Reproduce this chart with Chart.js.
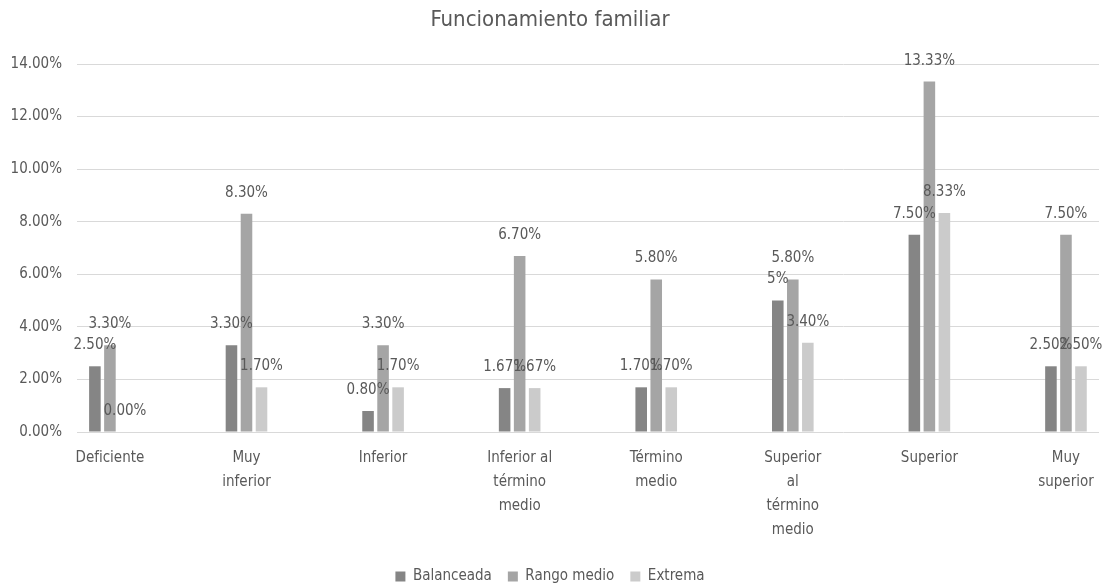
<!DOCTYPE html>
<html lang="es">
<head>
<meta charset="utf-8">
<title>Funcionamiento familiar</title>
<script src="https://cdn.jsdelivr.net/npm/chart.js@4.4.1/dist/chart.umd.min.js"></script>
<style>
  html, body { margin: 0; padding: 0; background: #ffffff; overflow: hidden; }
  #wrap { position: relative; width: 1108px; height: 594px; }
</style>
</head>
<body>
<div id="wrap"><canvas id="chart"></canvas></div>
<script>
// Categories, one array of lines per label
const categories = [
  ['Deficiente'],
  ['Muy', 'inferior'],
  ['Inferior'],
  ['Inferior al', 'término', 'medio'],
  ['Término', 'medio'],
  ['Superior', 'al', 'término', 'medio'],
  ['Superior'],
  ['Muy', 'superior']
];

// Values as printed on each bar (percent)
const balanceadaLabels = ['2.50%', '3.30%', '0.80%', '1.67%', '1.70%', '5%', '7.50%', '2.50%'];
const rangoMedioLabels = ['3.30%', '8.30%', '3.30%', '6.70%', '5.80%', '5.80%', '13.33%', '7.50%'];
const extremaLabels    = ['0.00%', '1.70%', '1.70%', '1.67%', '1.70%', '3.40%', '8.33%', '2.50%'];

const balanceada = balanceadaLabels.map(parseFloat);
const rangoMedio = rangoMedioLabels.map(parseFloat);
const extrema    = extremaLabels.map(parseFloat);

// Y axis ticks
const yTicks = [0, 2, 4, 6, 8, 10, 12, 14];

const FONT = '"DejaVu Sans Condensed", "Liberation Sans Narrow", Roboto, sans-serif';
const TEXT = '#595959';

const toPoints = vals => vals.map((v, i) => ({ x: i, y: v }));

// Value labels above each bar, drawn after all bars
const barValueLabels = {
  id: 'barValueLabels',
  afterDatasetsDraw(chart) {
    const ctx = chart.ctx;
    ctx.save();
    ctx.font = '15px ' + FONT;
    ctx.fillStyle = TEXT;
    ctx.textAlign = 'center';
    ctx.textBaseline = 'middle';
    chart.data.datasets.forEach((ds, di) => {
      const meta = chart.getDatasetMeta(di);
      meta.data.forEach((bar, i) => {
        ctx.fillText(ds.valueLabels[i], bar.x, bar.y - 21);
      });
    });
    ctx.restore();
  }
};

new Chart(document.getElementById('chart'), {
  type: 'bar',
  data: {
    datasets: [
      { label: 'Balanceada', data: toPoints(balanceada), valueLabels: balanceadaLabels, backgroundColor: '#858585' },
      { label: 'Rango medio', data: toPoints(rangoMedio), valueLabels: rangoMedioLabels, backgroundColor: '#a5a5a5' },
      { label: 'Extrema', data: toPoints(extrema), valueLabels: extremaLabels, backgroundColor: '#cbcbcb' }
    ]
  },
  options: {
    responsive: true,
    maintainAspectRatio: false,
    animation: false,
    barPercentage: 0.77,
    categoryPercentage: 0.33,
    layout: { padding: { left: 0, right: 8, top: 0, bottom: 0 } },
    scales: {
      x: {
        type: 'linear',
        offset: false,
        min: -0.241,
        max: 7.242,
        afterBuildTicks: s => { s.ticks = categories.map((c, i) => ({ value: i })); },
        afterFit: s => { s.height = 121; },
        grid: { display: false, drawTicks: false },
        border: { display: false },
        ticks: {
          autoSkip: false,
          maxRotation: 0,
          padding: 14,
          color: TEXT,
          font: { family: FONT, size: 15, lineHeight: 1.6 },
          callback: v => categories[v]
        }
      },
      y: {
        min: 0,
        max: 14,
        afterBuildTicks: s => { s.ticks = yTicks.map(v => ({ value: v })); },
        afterFit: s => { s.width = 77; },
        grid: { color: '#d9d9d9', lineWidth: 1, drawTicks: false },
        border: { display: false },
        ticks: {
          padding: 15,
          color: TEXT,
          font: { family: FONT, size: 15 },
          callback: v => v.toFixed(2) + '%'
        }
      }
    },
    plugins: {
      title: {
        display: true,
        text: 'Funcionamiento familiar',
        color: TEXT,
        font: { family: FONT, size: 22, weight: 'normal', lineHeight: 1.2 },
        padding: { top: 7, bottom: 30.6 }
      },
      legend: {
        position: 'bottom',
        labels: {
          boxWidth: 10,
          boxHeight: 10,
          padding: 16,
          color: TEXT,
          font: { family: FONT, size: 15 }
        }
      },
      tooltip: { enabled: false }
    }
  },
  plugins: [barValueLabels]
});
</script>
</body>
</html>
